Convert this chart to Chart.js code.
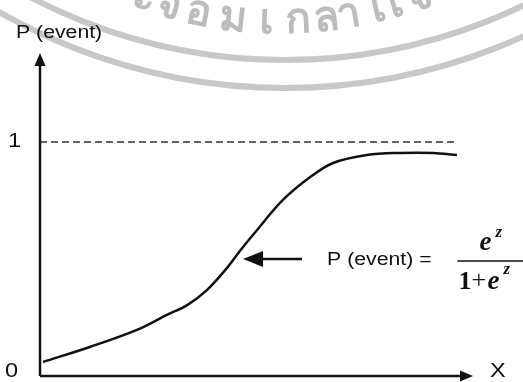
<!DOCTYPE html>
<html>
<head>
<meta charset="utf-8">
<script src="https://cdn.jsdelivr.net/npm/chart.js@4.4.1/dist/chart.umd.min.js"></script>
<style>
  html, body { margin: 0; padding: 0; background: #fff; }
  #wrap { width: 523px; height: 382px; }
</style>
</head>
<body>
<div id="wrap"><canvas id="logitChart" width="523" height="382"></canvas></div>
<script>
// curve (x in arbitrary units 0..100, y = probability)
const curveX = [0.7, 11.5, 22.4, 29.3, 34, 38.6, 43.2, 46.2, 49.5, 56.1, 62.4, 67.7, 75.5, 83.1, 90.8, 96.3];
const curveY = [0.06, 0.124, 0.197, 0.261, 0.303, 0.368, 0.462, 0.535, 0.61, 0.752, 0.85, 0.91, 0.944, 0.953, 0.953, 0.944];

// dashed asymptote at P = 1
const limitX = [0, 96.5];
const limitY = [1, 1];

// axis tick labels
const tickValues = [0, 1];
const tickLabels = ['0', '1'];

const yTitle = 'P (event)';
const xTitle = 'X';
const formulaText = 'P (event) =';
const stampLetters = ['ะ', 'จ', 'อ', 'ม', 'เ', 'ก', 'ล', 'า', 'ไ', 'เ', 'จ'];

const ink = '#111';
const stretch = 1.18; // the scan is a little wider than tall

function wideText(ctx, txt, x, y) {
  ctx.save();
  ctx.translate(x, y);
  ctx.scale(stretch, 1);
  ctx.fillText(txt, 0, 0);
  ctx.restore();
}

// white page + grey stamp behind everything
const backdrop = {
  id: 'backdrop',
  beforeDraw(chart) {
    const ctx = chart.ctx;
    ctx.save();
    ctx.fillStyle = '#fff';
    ctx.fillRect(0, 0, chart.width, chart.height);
    ctx.strokeStyle = '#c8c8c8';
    ctx.lineWidth = 6;
    [547, 575].forEach(r => {
      ctx.beginPath();
      ctx.arc(285, -487, r, 0, Math.PI);
      ctx.stroke();
    });
    // stamp lettering along its own ring
    const cx = 280, cy = -400, r = 433;
    const letterX = [141, 166, 196, 232, 266, 298, 328, 351, 377, 399, 424];
    ctx.fillStyle = '#bcbcbc';
    ctx.font = 'bold 42px "Noto Sans", sans-serif';
    ctx.textAlign = 'center';
    ctx.textBaseline = 'alphabetic';
    stampLetters.forEach((ch, i) => {
      const a = Math.acos((letterX[i] - cx) / r);
      const px = cx + r * Math.cos(a);
      const py = cy + r * Math.sin(a);
      ctx.save();
      ctx.translate(px, py);
      ctx.rotate(a - Math.PI / 2);
      ctx.fillText(ch, 0, 0);
      ctx.restore();
    });
    ctx.restore();
  }
};

// axes with arrowheads, labels, annotation arrow and formula
const figure = {
  id: 'figure',
  afterDatasetsDraw(chart) {
    const ctx = chart.ctx;
    const xs = chart.scales.x, ys = chart.scales.y;
    const x0 = xs.getPixelForValue(0), xEnd = xs.getPixelForValue(100);
    const y0 = ys.getPixelForValue(0), yTop = ys.getPixelForValue(ys.max);
    ctx.save();
    ctx.strokeStyle = ink;
    ctx.fillStyle = ink;
    ctx.lineWidth = 2.5;

    // y axis
    ctx.beginPath();
    ctx.moveTo(x0, y0);
    ctx.lineTo(x0, yTop + 8);
    ctx.stroke();
    ctx.beginPath();
    ctx.moveTo(x0, yTop);
    ctx.lineTo(x0 - 5.5, yTop + 13);
    ctx.lineTo(x0 + 5.5, yTop + 13);
    ctx.closePath();
    ctx.fill();

    // x axis
    ctx.beginPath();
    ctx.moveTo(x0, y0);
    ctx.lineTo(xEnd - 8, y0);
    ctx.stroke();
    ctx.beginPath();
    ctx.moveTo(xEnd, y0);
    ctx.lineTo(xEnd - 13, y0 - 5.5);
    ctx.lineTo(xEnd - 13, y0 + 5.5);
    ctx.closePath();
    ctx.fill();

    // text labels
    ctx.font = '18px "Liberation Sans", Arial, sans-serif';
    ctx.textBaseline = 'middle';
    ctx.textAlign = 'left';
    wideText(ctx, yTitle, 16, 33);
    ctx.font = '20px "Liberation Sans", Arial, sans-serif';
    tickValues.forEach((v, i) => {
      wideText(ctx, tickLabels[i], v === 0 ? 5 : 8, ys.getPixelForValue(v) - (v === 0 ? 5 : 0));
    });
    wideText(ctx, xTitle, xEnd + 17, y0 - 5);

    // pointer arrow to the curve
    const tipX = xs.getPixelForValue(46.9), tipY = ys.getPixelForValue(0.5);
    const tailX = xs.getPixelForValue(60.5);
    ctx.beginPath();
    ctx.moveTo(tipX + 15, tipY);
    ctx.lineTo(tailX, tipY);
    ctx.stroke();
    ctx.beginPath();
    ctx.moveTo(tipX, tipY);
    ctx.lineTo(tipX + 20, tipY - 8);
    ctx.lineTo(tipX + 20, tipY + 8);
    ctx.closePath();
    ctx.fill();

    // formula
    ctx.font = '18px "Liberation Sans", Arial, sans-serif';
    wideText(ctx, formulaText, xs.getPixelForValue(66.3), tipY + 1);
    const fx = xs.getPixelForValue(96.4);
    const barY = tipY + 2;
    ctx.textBaseline = 'alphabetic';
    ctx.font = 'bold italic 27px "Liberation Serif", serif';
    ctx.fillText('e', fx + 22, barY - 11);
    ctx.font = 'bold italic 17px "Liberation Serif", serif';
    ctx.fillText('z', fx + 38, barY - 24);
    ctx.lineWidth = 1.5;
    ctx.beginPath();
    ctx.moveTo(fx, barY);
    ctx.lineTo(fx + 70, barY);
    ctx.stroke();
    ctx.font = 'bold 26px "Liberation Serif", serif';
    ctx.fillText('1', fx + 1, barY + 28);
    ctx.font = '26px "Liberation Serif", serif';
    ctx.fillText('+', fx + 14, barY + 27);
    ctx.font = 'bold italic 27px "Liberation Serif", serif';
    ctx.fillText('e', fx + 30, barY + 28);
    ctx.font = 'bold italic 17px "Liberation Serif", serif';
    ctx.fillText('z', fx + 46, barY + 13);
    ctx.restore();
  }
};

const toPoints = (xs, ys) => xs.map((x, i) => ({ x: x, y: ys[i] }));

new Chart(document.getElementById('logitChart').getContext('2d'), {
  type: 'line',
  data: {
    datasets: [
      {
        label: 'P(event)',
        data: toPoints(curveX, curveY),
        borderColor: ink,
        borderWidth: 2.5,
        pointRadius: 0,
        tension: 0.35,
        fill: false
      },
      {
        label: 'limit',
        data: toPoints(limitX, limitY),
        borderColor: '#333',
        borderWidth: 1.5,
        borderDash: [7, 4],
        pointRadius: 0,
        fill: false
      }
    ]
  },
  options: {
    responsive: false,
    animation: false,
    layout: { padding: { left: 40, top: 53, right: 50, bottom: 6 } },
    scales: {
      x: { type: 'linear', min: 0, max: 100, display: false },
      y: { type: 'linear', min: 0, max: 1.38, display: false }
    },
    plugins: {
      legend: { display: false },
      tooltip: { enabled: false }
    }
  },
  plugins: [backdrop, figure]
});
</script>
</body>
</html>
